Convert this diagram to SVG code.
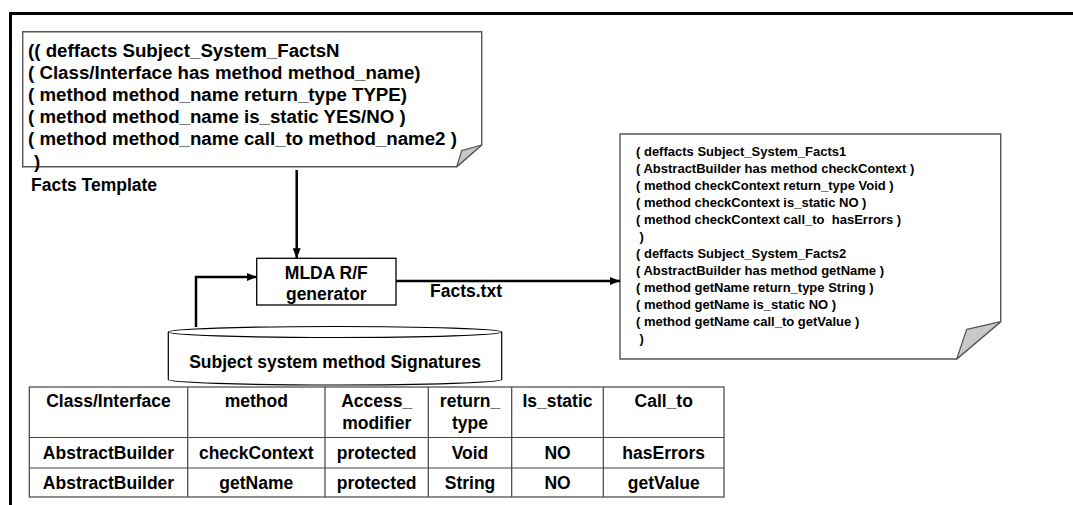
<svg xmlns="http://www.w3.org/2000/svg" width="1073" height="505" viewBox="0 0 1073 505">
<defs>
<style>
text{font-family:"Liberation Sans",Arial,sans-serif;font-weight:bold;fill:#000}
.doc{fill:#fff;stroke:#555;stroke-width:1.4}
.fold{fill:#c8c8c8;stroke:#555;stroke-width:1.2;stroke-linejoin:round}
.t1{font-size:18.7px}
.t2{font-size:13px}
.lbl{font-size:17.5px}
.tb{font-size:17.5px;text-anchor:middle}
.conn{fill:none;stroke:#000;stroke-width:2.5}
.grid{fill:none;stroke:#444;stroke-width:1.2}
</style>
<marker id="arr" markerUnits="userSpaceOnUse" markerWidth="10" markerHeight="10" viewBox="0 0 10 10" refX="10" refY="5" orient="auto">
<path d="M0,1 L10,5 L0,9 Z" fill="#000"/>
</marker>
</defs>
<rect width="1073" height="505" fill="#fff"/>
<g id="frame">
<line x1="9" y1="13.5" x2="1073" y2="13.5" stroke="#000" stroke-width="3"/>
<line x1="10.5" y1="12" x2="10.5" y2="505" stroke="#000" stroke-width="3"/>
</g>
<g id="facts-template">
<path class="doc" d="M22.7,31.7 H481.7 V145 L456.7,166.7 H22.7 Z"/>
<path class="fold" d="M481.7,145 L461.7,150.7 L456.7,166.7 Z"/>
<text class="t1" x="28" y="56.6">(( deffacts Subject_System_FactsN</text>
<text class="t1" x="28" y="78.8">( Class/Interface has method method_name)</text>
<text class="t1" x="28" y="101">( method method_name return_type TYPE)</text>
<text class="t1" x="28" y="123.2">( method method_name is_static YES/NO )</text>
<text class="t1" x="28" y="145.4">( method method_name call_to method_name2 )</text>
<text class="t1" x="34" y="167.6">)</text>
<text class="lbl" x="31" y="191">Facts Template</text>
</g>
<g id="generator">
<rect x="256.7" y="258.3" width="139.3" height="46.7" fill="#fff" stroke="#000" stroke-width="1.3"/>
<text class="tb" font-size="18" x="326.3" y="279">MLDA R/F</text>
<text class="tb" x="326.3" y="299.5">generator</text>
</g>
<g id="database">
<path d="M168.3,332 V379.5 A166.7,5.5 0 0 0 501.7,379.5 V332" fill="#fff" stroke="#000" stroke-width="1.2"/>
<ellipse cx="335" cy="332" rx="166.7" ry="5.5" fill="#fff" stroke="#000" stroke-width="1.2"/>
<text class="tb" font-size="17.8" x="335" y="368">Subject system method Signatures</text>
</g>
<g id="facts-output">
<path class="doc" d="M620,134 H1000.7 V321.7 L956.7,359 H620 Z"/>
<path class="fold" d="M1000.7,321.7 L966.7,329.3 L956.7,359 Z"/>
<text class="t2" x="636" y="156.4">( deffacts Subject_System_Facts1</text>
<text class="t2" x="636" y="173.4">( AbstractBuilder has method checkContext )</text>
<text class="t2" x="636" y="190.4">( method checkContext return_type Void )</text>
<text class="t2" x="636" y="207.4">( method checkContext is_static NO )</text>
<text class="t2" x="636" y="224.4" xml:space="preserve">( method checkContext call_to  hasErrors )</text>
<text class="t2" x="636" y="241.4">&#160;)</text>
<text class="t2" x="636" y="258.4">( deffacts Subject_System_Facts2</text>
<text class="t2" x="636" y="275.4">( AbstractBuilder has method getName )</text>
<text class="t2" x="636" y="292.4">( method getName return_type String )</text>
<text class="t2" x="636" y="309.4">( method getName is_static NO )</text>
<text class="t2" x="636" y="326.4">( method getName call_to getValue )</text>
<text class="t2" x="636" y="343.4">&#160;)</text>
</g>
<g id="connectors">
<line class="conn" x1="296.7" y1="170" x2="296.7" y2="258.3" marker-end="url(#arr)"/>
<path class="conn" d="M196,327 V277 H256.7" marker-end="url(#arr)"/>
<line class="conn" x1="396" y1="281" x2="620" y2="281" marker-end="url(#arr)"/>
<text class="lbl" x="430" y="297">Facts.txt</text>
</g>
<g id="signature-table">
<rect class="grid" x="29.3" y="387" width="694.7" height="110"/>
<line class="grid" x1="29.3" y1="437.5" x2="724" y2="437.5"/>
<line class="grid" x1="29.3" y1="468" x2="724" y2="468"/>
<line class="grid" x1="187.7" y1="387" x2="187.7" y2="497"/>
<line class="grid" x1="325" y1="387" x2="325" y2="497"/>
<line class="grid" x1="428.3" y1="387" x2="428.3" y2="497"/>
<line class="grid" x1="511.7" y1="387" x2="511.7" y2="497"/>
<line class="grid" x1="603.3" y1="387" x2="603.3" y2="497"/>
<text class="tb" x="108.5" y="407">Class/Interface</text>
<text class="tb" x="256.3" y="407">method</text>
<text class="tb" x="376.7" y="407">Access_</text>
<text class="tb" x="376.7" y="429">modifier</text>
<text class="tb" x="470" y="407">return_</text>
<text class="tb" x="470" y="429">type</text>
<text class="tb" x="557.5" y="407">Is_static</text>
<text class="tb" x="663.7" y="407">Call_to</text>
<text class="tb" x="108.5" y="459">AbstractBuilder</text>
<text class="tb" x="256.3" y="459">checkContext</text>
<text class="tb" x="376.7" y="459">protected</text>
<text class="tb" x="470" y="459">Void</text>
<text class="tb" x="557.5" y="459">NO</text>
<text class="tb" x="663.7" y="459">hasErrors</text>
<text class="tb" x="108.5" y="489">AbstractBuilder</text>
<text class="tb" x="256.3" y="489">getName</text>
<text class="tb" x="376.7" y="489">protected</text>
<text class="tb" x="470" y="489">String</text>
<text class="tb" x="557.5" y="489">NO</text>
<text class="tb" x="663.7" y="489">getValue</text>
</g>
</svg>
